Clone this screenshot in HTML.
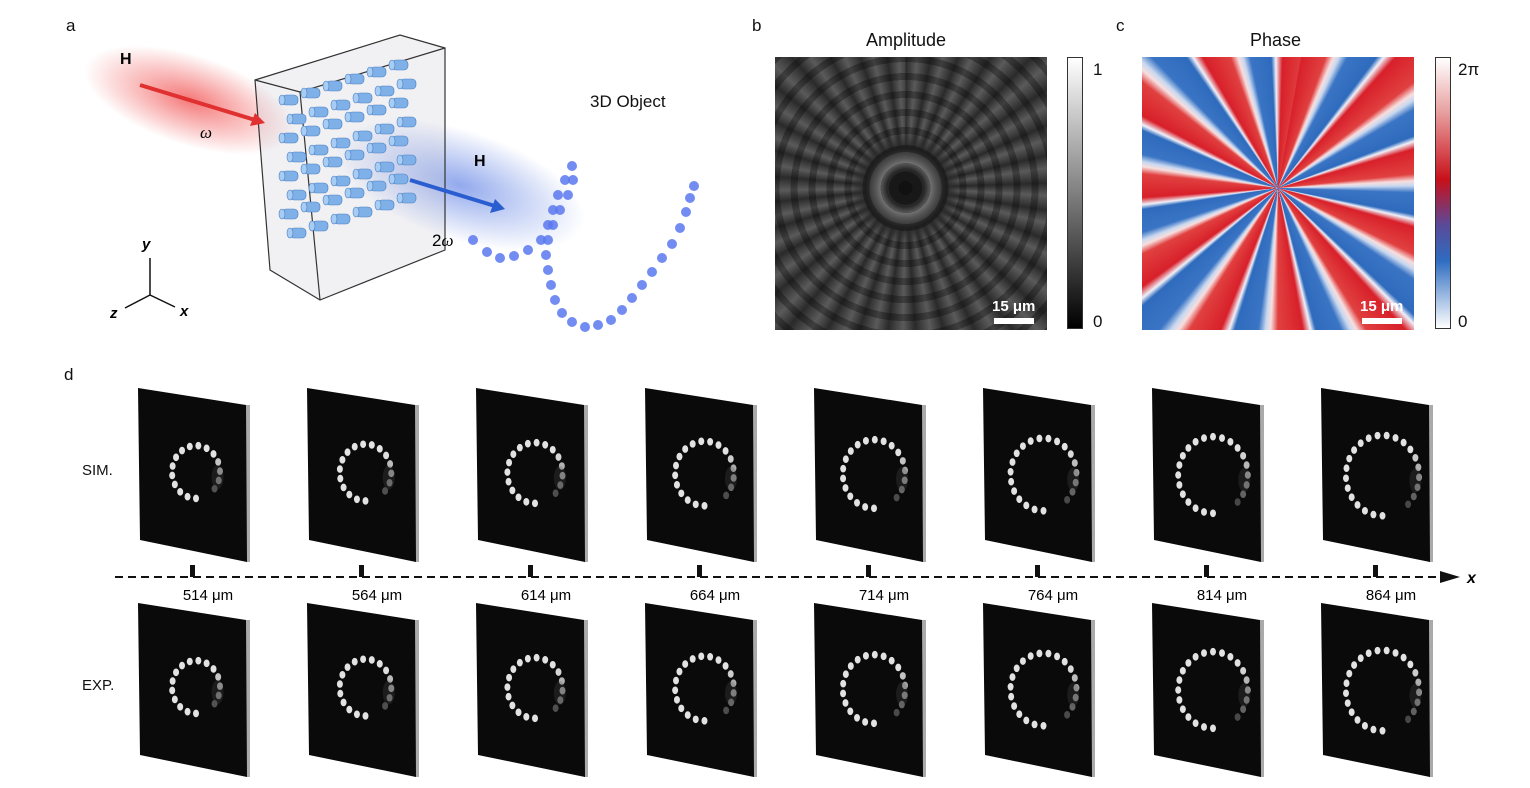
<!DOCTYPE html>
<html><head><meta charset="utf-8"><style>
body{margin:0;background:#fff;width:1530px;height:788px;overflow:hidden;position:relative;font-family:"Liberation Sans",sans-serif;}
.t{position:absolute;font-size:17px;color:#111;}
#amp{position:absolute;left:775px;top:57px;width:272px;height:273px;overflow:hidden;
background:radial-gradient(circle at 48% 48%,#181818 0 8%,#777 12%,#555 15%,#2a2a2a 20%,transparent 28%),
repeating-conic-gradient(from 0deg at 48% 48%,#2a2a2a 0deg,#5a5a5a 5deg,#2a2a2a 11deg);}
#amp:after{content:"";position:absolute;inset:0;background:repeating-radial-gradient(circle at 48% 48%,rgba(0,0,0,.3) 0 7px,rgba(0,0,0,0) 7px 18px);}
#ph{position:absolute;left:1142px;top:57px;width:272px;height:273px;
background:repeating-conic-gradient(from 10deg at 50% 48%,#d8202a 0deg,#e04040 10deg,#f8dede 13deg,#c8d8f0 15deg,#3a74c4 18deg,#2f6bbd 27deg,#f0f0f8 29deg,#d8202a 32deg);}
.cb{position:absolute;width:16px;height:272px;top:57px;border:1px solid #333;box-sizing:border-box;}
</style></head><body>
<div class="t" style="left:66px;top:16px">a</div>
<div class="t" style="left:752px;top:16px">b</div>
<div class="t" style="left:1116px;top:16px">c</div>
<div class="t" style="left:64px;top:365px">d</div>
<div class="t" style="left:866px;top:30px;font-size:18px">Amplitude</div>
<div class="t" style="left:1250px;top:30px;font-size:18px">Phase</div>
<div id="amp"></div><div id="ph"></div>
<div class="cb" style="left:1067px;background:linear-gradient(#fff,#000)"></div>
<div class="cb" style="left:1435px;background:linear-gradient(#fff,#e8a0a0 20%,#c8101a 45%,#5a4a9a 62%,#2e6cc0 75%,#fff)"></div>
<div class="t" style="left:1093px;top:60px">1</div><div class="t" style="left:1093px;top:312px">0</div>
<div class="t" style="left:1458px;top:60px">2π</div><div class="t" style="left:1458px;top:312px">0</div>
<div class="t" style="left:992px;top:298px;color:#fff;font-size:15px;font-weight:bold">15 μm</div>
<div style="position:absolute;left:994px;top:318px;width:40px;height:6px;background:#fff"></div>
<div class="t" style="left:1360px;top:298px;color:#fff;font-size:15px;font-weight:bold">15 μm</div>
<div style="position:absolute;left:1362px;top:318px;width:40px;height:6px;background:#fff"></div>
<div class="t" style="left:590px;top:92px">3D Object</div>
<div class="t" style="left:82px;top:462px;font-size:15px">SIM.</div>
<div class="t" style="left:82px;top:677px;font-size:15px">EXP.</div>
<svg id="s" width="1530" height="788" style="position:absolute;left:0;top:0">
<defs>
<radialGradient id="rg"><stop offset="0" stop-color="#f04040" stop-opacity=".7"/><stop offset="1" stop-color="#f04040" stop-opacity="0"/></radialGradient>
<radialGradient id="bg"><stop offset="0" stop-color="#4a70e0" stop-opacity=".6"/><stop offset="1" stop-color="#4a70e0" stop-opacity="0"/></radialGradient>
</defs>
<ellipse cx="190" cy="100" rx="110" ry="45" fill="url(#rg)" transform="rotate(18 190 100)"/>
<ellipse cx="460" cy="185" rx="130" ry="55" fill="url(#bg)" transform="rotate(18 460 185)"/>
<g fill="none" stroke="#333" stroke-width="1.2">
<polygon points="255,80 400,35 445,48 445,250 320,300 270,270" fill="rgba(200,200,210,.25)"/>
<polyline points="255,80 300,92 445,48"/><line x1="300" y1="92" x2="320" y2="300"/>
</g>
<line x1="140" y1="85" x2="255" y2="120" stroke="#e03030" stroke-width="4"/>
<polygon points="255,113 265,123 250,126" fill="#e03030"/>
<line x1="410" y1="180" x2="495" y2="206" stroke="#2a5ed0" stroke-width="4"/>
<polygon points="495,199 505,209 490,213" fill="#2a5ed0"/>
<text x="120" y="64" font-size="16" font-weight="bold" font-family="Liberation Sans">H</text>
<text x="474" y="166" font-size="16" font-weight="bold" font-family="Liberation Sans">H</text>
<text x="200" y="138" font-size="17" font-style="italic" font-family="Liberation Serif">ω</text>
<text x="432" y="246" font-size="17" font-family="Liberation Sans">2<tspan font-style="italic" font-family="Liberation Serif">ω</tspan></text>
<g stroke="#111" stroke-width="1.5"><line x1="150" y1="295" x2="150" y2="258"/><line x1="150" y1="295" x2="125" y2="308"/><line x1="150" y1="295" x2="175" y2="307"/></g>
<text x="142" y="249" font-size="15" font-weight="bold" font-style="italic" font-family="Liberation Sans">y</text>
<text x="110" y="318" font-size="15" font-weight="bold" font-style="italic" font-family="Liberation Sans">z</text>
<text x="180" y="316" font-size="15" font-weight="bold" font-style="italic" font-family="Liberation Sans">x</text>
<g id="cyl"></g><g id="obj"></g><g id="pn"></g>
<line x1="115" y1="577" x2="1440" y2="577" stroke="#111" stroke-width="2" stroke-dasharray="8,5"/>
<polygon points="1440,571 1460,577 1440,583" fill="#111"/>
<text x="1467" y="583" font-size="16" font-weight="bold" font-style="italic" font-family="Liberation Sans">x</text>
<g font-size="15" font-family="Liberation Sans" text-anchor="middle">
<text x="208" y="600">514 μm</text><text x="377" y="600">564 μm</text><text x="546" y="600">614 μm</text><text x="715" y="600">664 μm</text><text x="884" y="600">714 μm</text><text x="1053" y="600">764 μm</text><text x="1222" y="600">814 μm</text><text x="1391" y="600">864 μm</text>
</g>
</svg>
<script>
var NS="http://www.w3.org/2000/svg";
function el(p,t,a){var e=document.createElementNS(NS,t);for(var k in a)e.setAttribute(k,a[k]);document.getElementById(p).appendChild(e);return e;}
for(var c=0;c<6;c++)for(var r=0;r<8;r++){var x=290+c*22+(r%2)*8,y=100+r*19-c*7;
el("cyl","rect",{x:x-8,y:y-5,width:16,height:10,rx:4,fill:"#7fb0e8",stroke:"#4a7fc0","stroke-width":.6});
el("cyl","ellipse",{cx:x-8,cy:y,rx:3,ry:5,fill:"#a8cdf5",stroke:"#4a7fc0","stroke-width":.6});}
var pts=[[473,240],[487,252],[500,258],[514,256],[528,250],[541,240],[548,225],[553,210],[558,195],[565,180],[572,166],[573,180],[568,195],[560,210],[553,225],[548,240],[546,255],[548,270],[551,285],[555,300],[562,313],[572,322],[585,327],[598,325],[611,320],[622,310],[632,298],[642,285],[652,272],[662,258],[672,244],[680,228],[686,212],[690,198],[694,186]];
pts.forEach(function(p){el("obj","circle",{cx:p[0],cy:p[1],r:5,fill:"#5a78ee",opacity:.85});});
for(var i=0;i<8;i++){
 [[388,0],[603,1]].forEach(function(q){
  var x0=138+169*i,y0=q[0];
  el("pn","polygon",{points:(x0+108)+","+(y0+17)+" "+(x0+112)+","+(y0+17)+" "+(x0+112)+","+(y0+174)+" "+(x0+108)+","+(y0+174),fill:"#aaa"});
  el("pn","polygon",{points:x0+","+y0+" "+(x0+108)+","+(y0+17)+" "+(x0+109)+","+(y0+174)+" "+(x0+2)+","+(y0+152),fill:"#0a0a0a"});
  var cx=x0+58+i*0.5,cy=y0+84+i*0.5,R=24+i*1.8,n=16+i;
  for(var k=0;k<n;k++){var a=(-90-k*(330/n))*Math.PI/180;
   var op=k<n*0.7?0.95:0.95-(k-n*0.7)/(n*0.3)*0.8;
   el("pn","ellipse",{cx:cx+R*Math.cos(a),cy:cy-R*Math.sin(a)*1.1,rx:3,ry:3.8,fill:"#eee",opacity:op});}
  el("pn","ellipse",{cx:cx+R*0.9,cy:cy+5,rx:6,ry:12,fill:"#555",opacity:.25});
 });
 el("pn","rect",{x:190+169*i,y:565,width:5,height:12,fill:"#111"});
}
</script>
</body></html>
